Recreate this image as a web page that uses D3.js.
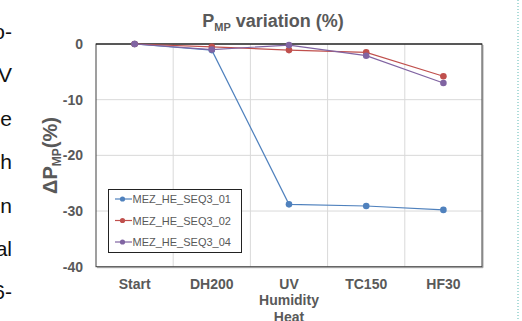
<!DOCTYPE html>
<html>
<head>
<meta charset="utf-8">
<script src="https://cdn.jsdelivr.net/npm/d3@7"></script>
<style>
  html, body { margin: 0; padding: 0; background: #fff; }
  svg { display: block; font-family: "Liberation Sans", Arial, sans-serif; }
</style>
</head>
<body>
<svg id="chart" width="522" height="321"></svg>
<script>
// ---- data ----
const categories = ["Start", "DH200", "UV", "TC150", "HF30"];
const categoryLabels = [["Start"], ["DH200"], ["UV", "Humidity", "Heat"], ["TC150"], ["HF30"]];
const seriesNames = ["MEZ_HE_SEQ3_01", "MEZ_HE_SEQ3_02", "MEZ_HE_SEQ3_04"];
const seq01 = [0, -1.1, -28.8, -29.1, -29.8];
const seq02 = [0, -0.5, -1.1, -1.5, -5.8];
const seq04 = [0, -1.0, -0.2, -2.1, -7.0];
const yTicks = [0, -10, -20, -30, -40];
const sideText = ["o-", "V", "e", "h", "n", "al", "6-"];

const seriesValues = [seq01, seq02, seq04];
const colors = ["#4f81bd", "#c0504d", "#8064a2"];

// ---- layout ----
const svg = d3.select("#chart");
const pL = 96, pR = 482, pT = 44, pB = 266.7;
const x = d3.scaleBand().domain(categories).range([pL, pR]).padding(0);
const y = d3.scaleLinear().domain([-40, 0]).range([pB, pT]);
const gray = "#595959";

// side document text fragments
svg.append("g").selectAll("text").data(sideText).join("text")
  .attr("x", 12).attr("y", (d, i) => 39 + i * 43.4)
  .attr("text-anchor", "end")
  .attr("font-size", 21).attr("fill", "#111")
  .text(d => d);

// dotted teal line at right
svg.append("line").attr("x1", 518).attr("x2", 518).attr("y1", 0).attr("y2", 321)
  .attr("stroke", "#5ab9b3").attr("stroke-width", 1).attr("stroke-dasharray", "1,2");

// gridlines
const grid = svg.append("g").attr("stroke", "#d9d9d9").attr("stroke-width", 1);
grid.selectAll("line.h").data(yTicks.filter(t => t !== 0 && t !== -40)).join("line")
  .attr("x1", pL).attr("x2", pR)
  .attr("y1", d => y(d)).attr("y2", d => y(d));
grid.selectAll("line.v").data(categories.slice(1)).join("line")
  .attr("x1", d => x(d)).attr("x2", d => x(d))
  .attr("y1", pT).attr("y2", pB);

// plot border
svg.append("line").attr("x1", pR + 1).attr("x2", pR + 1).attr("y1", pT + 1).attr("y2", pB + 1)
  .attr("stroke", "#a6a6a6").attr("stroke-width", 1);
svg.append("line").attr("x1", pL + 1).attr("x2", pR + 1).attr("y1", pB + 1).attr("y2", pB + 1)
  .attr("stroke", "#a6a6a6").attr("stroke-width", 1);
svg.append("rect").attr("x", pL).attr("y", pT)
  .attr("width", pR - pL).attr("height", pB - pT)
  .attr("fill", "none").attr("stroke", "#404040").attr("stroke-width", 1);
svg.append("line").attr("x1", pL).attr("x2", pR).attr("y1", y(0)).attr("y2", y(0))
  .attr("stroke", "#111").attr("stroke-width", 1);

// y axis
const yAxis = svg.append("g").attr("transform", `translate(${pL},0)`)
  .call(d3.axisLeft(y).tickValues(yTicks).tickSize(0).tickPadding(13).tickFormat(d => String(d)));
yAxis.select(".domain").remove();
yAxis.selectAll("text").attr("font-family", "Liberation Sans, Arial, sans-serif")
  .attr("font-size", 14).attr("font-weight", "bold").attr("fill", gray);

// x axis
const xAxis = svg.append("g").attr("transform", `translate(0,${pB})`)
  .call(d3.axisBottom(x).tickSize(0).tickPadding(12));
xAxis.select(".domain").remove();
xAxis.selectAll("text").each(function (d, i) {
  const t = d3.select(this);
  t.text(null).attr("font-family", "Liberation Sans, Arial, sans-serif")
    .attr("font-size", 14).attr("font-weight", "bold").attr("fill", gray).attr("dy", null);
  categoryLabels[i].forEach((ln, j) => {
    t.append("tspan").attr("x", 0).attr("dy", j === 0 ? "0.71em" : "1.18em").text(ln);
  });
});

// lines and markers
const line = d3.line().x((d, i) => x(categories[i]) + x.bandwidth() / 2).y(d => y(d));
seriesValues.forEach((vals, s) => {
  const g = svg.append("g");
  g.append("path").datum(vals).attr("d", line)
    .attr("fill", "none").attr("stroke", colors[s]).attr("stroke-width", 1.2);
  g.selectAll("circle").data(vals).join("circle")
    .attr("cx", (d, i) => x(categories[i]) + x.bandwidth() / 2)
    .attr("cy", d => y(d)).attr("r", 3.3).attr("fill", colors[s]);
});

// title
const title = svg.append("text").attr("x", 273).attr("y", 27)
  .attr("text-anchor", "middle").attr("font-size", 18).attr("font-weight", "bold").attr("fill", gray);
title.append("tspan").text("P");
title.append("tspan").attr("font-size", 11).attr("dy", 4).text("MP");
title.append("tspan").attr("dy", -4).text(" variation (%)");

// y label
const yl = svg.append("text").attr("transform", `translate(57,155.5) rotate(-90)`)
  .attr("text-anchor", "middle").attr("font-size", 20).attr("font-weight", "bold").attr("fill", gray);
yl.append("tspan").text("ΔP");
yl.append("tspan").attr("font-size", 12).attr("dy", 4).text("MP");
yl.append("tspan").attr("dy", -4).text("(%)");

// legend
const lg = svg.append("g");
lg.append("rect").attr("x", 108.5).attr("y", 189.5).attr("width", 133).attr("height", 63)
  .attr("fill", "#fff").attr("stroke", "#222").attr("stroke-width", 1);
seriesNames.forEach((name, s) => {
  const cy = 199 + s * 21.5;
  lg.append("line").attr("x1", 115).attr("x2", 132).attr("y1", cy).attr("y2", cy)
    .attr("stroke", colors[s]).attr("stroke-width", 1.2);
  lg.append("circle").attr("cx", 122.5).attr("cy", cy).attr("r", 2.6).attr("fill", colors[s]);
  lg.append("text").attr("x", 132.5).attr("y", cy + 4).attr("font-size", 11)
    .attr("fill", gray).text(name);
});
</script>
</body>
</html>
